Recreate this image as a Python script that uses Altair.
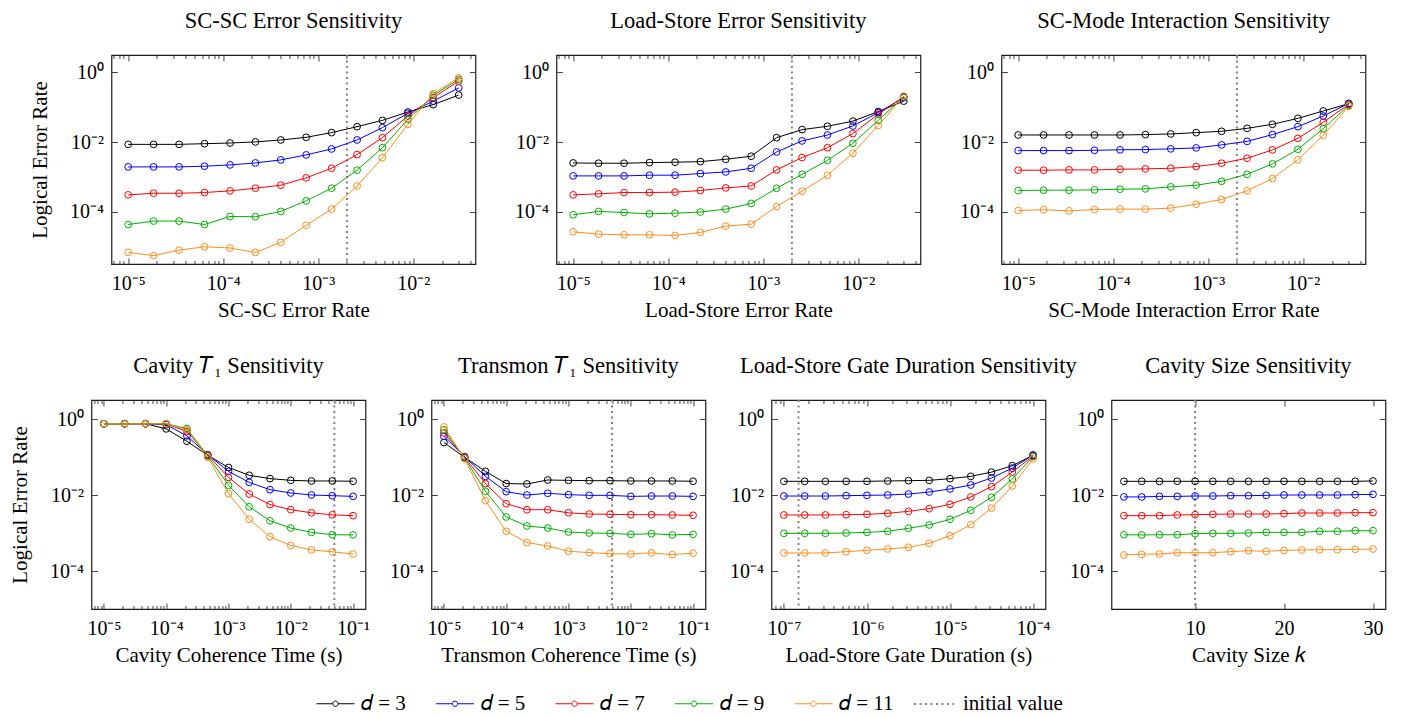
import altair as alt
import pandas as pd

FONT = "Liberation Serif"
SERIES = ["𝑑 = 3", "𝑑 = 5", "𝑑 = 7", "𝑑 = 9", "𝑑 = 11"]
COLORS = ["#000000", "#0000ff", "#ff0000", "#00b000", "#ff8c1a"]
INIT_LABEL = ["initial value"]

# ---------------- x values ----------------
X_RATE = [1.0e-5, 1.85e-5, 3.43e-5, 6.35e-5, 1.18e-4, 2.18e-4, 4.03e-4, 7.46e-4,
          1.38e-3, 2.56e-3, 4.73e-3, 8.76e-3, 1.62e-2, 3.0e-2]
X_T1 = [1.0e-5, 2.15e-5, 4.64e-5, 1.0e-4, 2.15e-4, 4.64e-4, 1.0e-3, 2.15e-3,
        4.64e-3, 1.0e-2, 2.15e-2, 4.64e-2, 1.0e-1]
X_DUR = [1.0e-7, 1.78e-7, 3.16e-7, 5.62e-7, 1.0e-6, 1.78e-6, 3.16e-6, 5.62e-6,
         1.0e-5, 1.78e-5, 3.16e-5, 5.62e-5, 1.0e-4]
X_K = [2, 4, 6, 8, 10, 12, 14, 16, 18, 20, 22, 24, 26, 28, 30]

# ---------------- SC-SC error ----------------
SCSC_D3 = [8.6e-3, 8.6e-3, 8.6e-3, 9.0e-3, 9.4e-3, 1.01e-2, 1.15e-2, 1.37e-2, 1.87e-2, 2.77e-2, 4.2e-2, 7.3e-2, 0.119, 0.224]
SCSC_D5 = [1.94e-3, 1.94e-3, 1.94e-3, 2.03e-3, 2.21e-3, 2.52e-3, 3.08e-3, 4.28e-3, 6.35e-3, 1.15e-2, 2.6e-2, 6.7e-2, 0.15, 0.36]
SCSC_D7 = [3.05e-4, 3.4e-4, 3.4e-4, 3.56e-4, 3.98e-4, 4.74e-4, 5.78e-4, 9.4e-4, 1.77e-3, 4.37e-3, 1.34e-2, 5.6e-2, 0.19, 0.56]
SCSC_D9 = [4.3e-5, 5.4e-5, 5.4e-5, 4.3e-5, 7.3e-5, 7.2e-5, 1.02e-4, 2.06e-4, 4.74e-4, 1.56e-3, 6.9e-3, 4.5e-2, 0.22, 0.63]
SCSC_D11 = [6.8e-6, 5.5e-6, 7.9e-6, 9.9e-6, 9.1e-6, 6.8e-6, 1.32e-5, 4.1e-5, 1.19e-4, 5.5e-4, 3.6e-3, 3.2e-2, 0.245, 0.70]

# ---------------- Load-store error ----------------
LS_D3 = [2.52e-3, 2.47e-3, 2.47e-3, 2.58e-3, 2.64e-3, 2.75e-3, 3.21e-3, 3.92e-3, 1.34e-2, 2.28e-2, 2.84e-2, 4.0e-2, 7.5e-2, 0.15]
LS_D5 = [1.07e-3, 1.07e-3, 1.07e-3, 1.12e-3, 1.12e-3, 1.25e-3, 1.39e-3, 1.77e-3, 5.2e-3, 1.08e-2, 1.6e-2, 2.9e-2, 7.0e-2, 0.19]
LS_D7 = [3.05e-4, 3.27e-4, 3.56e-4, 3.56e-4, 3.65e-4, 4.07e-4, 4.85e-4, 5.5e-4, 1.59e-3, 3.6e-3, 6.9e-3, 1.75e-2, 6.3e-2, 0.20]
LS_D9 = [8.2e-5, 1.02e-4, 9.5e-5, 8.7e-5, 9.1e-5, 9.8e-5, 1.19e-4, 1.73e-4, 4.7e-4, 1.19e-3, 3.0e-3, 9.2e-3, 4.2e-2, 0.20]
LS_D11 = [2.66e-5, 2.28e-5, 2.18e-5, 2.18e-5, 2.09e-5, 2.55e-5, 3.87e-5, 4.4e-5, 1.42e-4, 3.9e-4, 1.12e-3, 4.8e-3, 3.0e-2, 0.21]

# ---------------- SC-mode interaction ----------------
SM_D3 = [1.6e-2, 1.6e-2, 1.6e-2, 1.6e-2, 1.6e-2, 1.64e-2, 1.71e-2, 1.87e-2, 2.04e-2, 2.48e-2, 3.24e-2, 4.8e-2, 7.8e-2, 0.127]
SM_D5 = [5.7e-3, 5.7e-3, 5.7e-3, 5.8e-3, 6.0e-3, 6.1e-3, 6.4e-3, 6.8e-3, 8.3e-3, 1.05e-2, 1.64e-2, 2.77e-2, 5.6e-2, 0.129]
SM_D7 = [1.56e-3, 1.56e-3, 1.59e-3, 1.59e-3, 1.66e-3, 1.70e-3, 1.77e-3, 1.98e-3, 2.47e-3, 3.44e-3, 5.96e-3, 1.28e-2, 3.7e-2, 0.121]
SM_D9 = [4.07e-4, 4.16e-4, 4.16e-4, 4.25e-4, 4.44e-4, 4.54e-4, 5.18e-4, 5.78e-4, 7.5e-4, 1.19e-3, 2.36e-3, 6.2e-3, 2.43e-2, 0.113]
SM_D11 = [1.09e-4, 1.14e-4, 1.06e-4, 1.16e-4, 1.19e-4, 1.19e-4, 1.27e-4, 1.65e-4, 2.25e-4, 4.0e-4, 9.0e-4, 3.1e-3, 1.57e-2, 0.106]

# ---------------- Cavity T1 ----------------
CT_D3 = [0.75, 0.75, 0.75, 0.55, 0.26, 0.111, 5.3e-2, 3.3e-2, 2.7e-2, 2.43e-2, 2.34e-2, 2.34e-2, 2.3e-2]
CT_D5 = [0.75, 0.75, 0.75, 0.71, 0.36, 0.115, 4.2e-2, 2.15e-2, 1.38e-2, 1.13e-2, 1.0e-2, 9.6e-3, 9.2e-3]
CT_D7 = [0.75, 0.75, 0.75, 0.74, 0.47, 0.113, 2.9e-2, 1.06e-2, 5.6e-3, 4.1e-3, 3.4e-3, 3.0e-3, 2.86e-3]
CT_D9 = [0.75, 0.75, 0.75, 0.75, 0.56, 0.106, 1.8e-2, 4.9e-3, 2.1e-3, 1.35e-3, 1.04e-3, 9.0e-4, 8.9e-4]
CT_D11 = [0.75, 0.75, 0.75, 0.75, 0.52, 9.8e-2, 1.08e-2, 2.3e-3, 8.0e-4, 4.7e-4, 3.6e-4, 3.2e-4, 2.8e-4]

# ---------------- Transmon T1 ----------------
TT_D3 = [0.24, 9.8e-2, 4.2e-2, 2.0e-2, 1.95e-2, 2.48e-2, 2.43e-2, 2.38e-2, 2.38e-2, 2.34e-2, 2.34e-2, 2.34e-2, 2.3e-2]
TT_D5 = [0.35, 0.102, 3.1e-2, 1.22e-2, 1.0e-2, 1.11e-2, 1.02e-2, 9.8e-3, 9.8e-3, 9.2e-3, 9.4e-3, 9.4e-3, 9.2e-3]
TT_D7 = [0.43, 9.8e-2, 2.0e-2, 5.9e-3, 4.1e-3, 4.1e-3, 3.4e-3, 3.16e-3, 3.1e-3, 3.03e-3, 3.03e-3, 2.98e-3, 2.92e-3]
TT_D9 = [0.52, 9.4e-2, 1.25e-2, 2.64e-3, 1.53e-3, 1.35e-3, 1.06e-3, 1.0e-3, 9.8e-4, 9.2e-4, 9.6e-4, 8.9e-4, 9.2e-4]
TT_D11 = [0.62, 9.0e-2, 7.1e-3, 1.11e-3, 5.6e-4, 4.55e-4, 3.3e-4, 3.05e-4, 2.85e-4, 2.8e-4, 3.0e-4, 2.7e-4, 2.95e-4]

# ---------------- Load-store gate duration ----------------
GD_D3 = [2.29e-2, 2.29e-2, 2.29e-2, 2.29e-2, 2.29e-2, 2.34e-2, 2.38e-2, 2.43e-2, 2.69e-2, 3.1e-2, 4.0e-2, 5.9e-2, 0.111]
GD_D5 = [9.4e-3, 9.4e-3, 9.4e-3, 9.6e-3, 9.8e-3, 1.0e-2, 1.06e-2, 1.2e-2, 1.44e-2, 1.83e-2, 2.8e-2, 5.1e-2, 0.113]
GD_D7 = [2.98e-3, 2.98e-3, 2.98e-3, 3.03e-3, 3.1e-3, 3.3e-3, 3.72e-3, 4.37e-3, 5.7e-3, 8.9e-3, 1.66e-2, 4.0e-2, 0.106]
GD_D9 = [9.8e-4, 9.8e-4, 9.8e-4, 1.0e-3, 1.04e-3, 1.11e-3, 1.33e-3, 1.63e-3, 2.29e-3, 3.95e-3, 8.7e-3, 2.64e-2, 0.102]
GD_D11 = [2.98e-4, 2.98e-4, 2.98e-4, 3.23e-4, 3.5e-4, 3.8e-4, 4.2e-4, 5.35e-4, 8.5e-4, 1.66e-3, 4.5e-3, 1.73e-2, 8.9e-2]

# ---------------- Cavity size ----------------
CS_D3 = [2.29e-2, 2.29e-2, 2.29e-2, 2.29e-2, 2.29e-2, 2.29e-2, 2.29e-2, 2.29e-2, 2.29e-2, 2.29e-2, 2.29e-2, 2.29e-2, 2.29e-2, 2.29e-2, 2.34e-2]
CS_D5 = [8.9e-3, 8.9e-3, 9.2e-3, 9.2e-3, 9.4e-3, 9.4e-3, 9.6e-3, 9.6e-3, 9.8e-3, 1.0e-2, 1.0e-2, 1.0e-2, 1.0e-2, 1.02e-2, 1.04e-2]
CS_D7 = [2.86e-3, 2.86e-3, 2.86e-3, 2.98e-3, 3.03e-3, 3.1e-3, 3.16e-3, 3.16e-3, 3.16e-3, 3.23e-3, 3.36e-3, 3.36e-3, 3.36e-3, 3.43e-3, 3.43e-3]
CS_D9 = [9.0e-4, 8.9e-4, 9.0e-4, 9.0e-4, 9.6e-4, 9.8e-4, 9.8e-4, 1.0e-3, 1.04e-3, 1.04e-3, 1.04e-3, 1.11e-3, 1.11e-3, 1.15e-3, 1.15e-3]
CS_D11 = [2.64e-4, 2.75e-4, 2.8e-4, 3.03e-4, 3.03e-4, 3.03e-4, 3.23e-4, 3.43e-4, 3.3e-4, 3.5e-4, 3.57e-4, 3.64e-4, 3.64e-4, 3.72e-4, 3.79e-4]

# initial (dotted) values
INIT = {"scsc": 2.0e-3, "ls": 2.0e-3, "sm": 2.0e-3, "ct": 5.0e-2, "tt": 5.0e-3, "gd": 1.5e-7, "cs": 10}

SUP = "['⁰','¹','²','³','⁴','⁵','⁶','⁷','⁸','⁹']"
EXP = "round(log(datum.value)/LN10)"
POW_LABEL = f"'10' + ({EXP} < 0 ? '⁻' : '') + {SUP}[abs({EXP})]"

Y_MAJOR = [1.0, 1e-2, 1e-4]
MAJ = 6
MIN = 3.5


def minor_ticks(lo_exp, hi_exp):
    vals = []
    for e in range(lo_exp, hi_exp + 1):
        for m in range(2, 10):
            vals.append(m * 10.0 ** e)
    return vals


def panel(title, xtitle, xs, ys, init, xdom, ydom, xmajor, xminor, width,
          xlog=True, ytitle=None, legend=False):
    rows = []
    for s, vals in zip(SERIES, ys):
        for xv, yv in zip(xs, vals):
            rows.append({"x": xv, "y": yv, "series": s})
    df = pd.DataFrame(rows)
    idf = pd.DataFrame({"x": [init], "kind": INIT_LABEL})

    if xlog:
        xscale = alt.Scale(type="log", domain=xdom, nice=False)
        xlab = dict(labelExpr=POW_LABEL)
    else:
        xscale = alt.Scale(type="linear", domain=xdom, nice=False, zero=False)
        xlab = {}
    yscale = alt.Scale(type="log", domain=ydom, nice=False)

    ax_bot = alt.Axis(orient="bottom", values=xmajor, offset=-MAJ, tickSize=MAJ, domain=False,
                      grid=False, title=xtitle, labelPadding=9, titlePadding=6, **xlab)
    ax_top = alt.Axis(orient="top", values=xmajor, offset=-MAJ, tickSize=MAJ, domain=False,
                      grid=False, labels=False, title=None)
    if ytitle:
        ax_left = alt.Axis(orient="left", values=Y_MAJOR, offset=-MAJ, tickSize=MAJ, domain=False,
                           grid=False, labelExpr=POW_LABEL, labelPadding=8, title=ytitle, titlePadding=19)
    else:
        ax_left = alt.Axis(orient="left", values=Y_MAJOR, offset=-MAJ, tickSize=MAJ, domain=False,
                           grid=False, labelExpr=POW_LABEL, labelPadding=8, title=None)
    ax_right = alt.Axis(orient="right", values=Y_MAJOR, offset=-MAJ, tickSize=MAJ, domain=False,
                        grid=False, labels=False, title=None)

    if legend:
        col_leg = alt.Legend(orient="none", legendX=225, legendY=629, direction="horizontal",
                             title=None,
                             symbolType="M -1 0 L -0.14 0 M 0.14 0 L 1 0 M 0.14 0 A 0.14 0.14 0 1 1 -0.14 0 A 0.14 0.14 0 1 1 0.14 0",
                             symbolSize=1444, symbolStrokeWidth=1, symbolFillColor="transparent",
                             labelFont=FONT, labelFontSize=21, labelColor="#000", labelOffset=6,
                             columnPadding=27.5, labelLimit=300)
        dash_leg = alt.Legend(orient="none", legendX=822, legendY=628, direction="horizontal",
                              title=None, symbolType="stroke", symbolSize=1600,
                              symbolStrokeColor="gray", symbolStrokeWidth=2,
                              labelFont=FONT, labelFontSize=21, labelColor="#000", labelOffset=8,
                              labelLimit=300)
    else:
        col_leg = None
        dash_leg = None

    color = alt.Color("series:N", scale=alt.Scale(domain=SERIES, range=COLORS), legend=col_leg)
    color_nl = alt.Color("series:N", scale=alt.Scale(domain=SERIES, range=COLORS), legend=None)

    rule_axis = alt.Axis(orient="bottom", values=xminor, offset=-MIN, tickSize=MIN, domain=False,
                         grid=False, labels=False, title=None) if xminor else None
    top_minor = alt.Axis(orient="top", values=xminor, offset=-MIN, tickSize=MIN, domain=False,
                         grid=False, labels=False, title=None) if xminor else None

    rule = alt.Chart(idf).mark_rule(color="gray", strokeWidth=2).encode(
        x=alt.X("x:Q", scale=xscale, axis=rule_axis),
        strokeDash=alt.StrokeDash("kind:N", scale=alt.Scale(domain=INIT_LABEL, range=[[2, 3.5]]),
                                  legend=dash_leg),
    )
    # transparent copy of the points, only carries the top minor-tick axis
    extra = alt.Chart(df).mark_point(opacity=0).encode(
        x=alt.X("x:Q", scale=xscale, axis=top_minor),
        y=alt.Y("y:Q", scale=yscale, axis=None),
    )
    lines = alt.Chart(df).mark_line(strokeWidth=1).encode(
        x=alt.X("x:Q", scale=xscale, axis=ax_bot),
        y=alt.Y("y:Q", scale=yscale, axis=ax_left),
        color=color,
    )
    points = alt.Chart(df).mark_point(filled=False, size=46, strokeWidth=1, opacity=1).encode(
        x=alt.X("x:Q", scale=xscale, axis=ax_top),
        y=alt.Y("y:Q", scale=yscale, axis=ax_right),
        color=color_nl,
    )
    return alt.layer(rule, extra, lines, points).resolve_axis(
        x="independent", y="independent"
    ).properties(
        width=width, height=209,
        title=alt.Title(title, font=FONT, fontSize=22.5, fontWeight="normal", color="#000",
                        offset=4, baseline="alphabetic", anchor="middle"),
    )


R1_Y = [10 ** -5.5, 10 ** 0.5]
R2_Y = [1e-5, 10 ** 0.5]
RATE_DOM = [6.67e-6, 4.5e-2]
T1_DOM = [6.31e-6, 0.158]
DUR_DOM = [7.08e-8, 1.41e-4]
K_DOM = [0.6, 31.4]

RATE_MAJ = [1e-5, 1e-4, 1e-3, 1e-2]
T1_MAJ = [1e-5, 1e-4, 1e-3, 1e-2, 1e-1]
DUR_MAJ = [1e-7, 1e-6, 1e-5, 1e-4]

RATE_MIN = [v for v in minor_ticks(-6, -2) if RATE_DOM[0] <= v <= RATE_DOM[1]]
T1_MIN = [v for v in minor_ticks(-6, -1) if T1_DOM[0] <= v <= T1_DOM[1]]
DUR_MIN = [v for v in minor_ticks(-8, -4) if DUR_DOM[0] <= v <= DUR_DOM[1]]

W1 = 364
W2 = 274

p1 = panel("SC-SC Error Sensitivity", "SC-SC Error Rate", X_RATE,
           [SCSC_D3, SCSC_D5, SCSC_D7, SCSC_D9, SCSC_D11], INIT["scsc"], RATE_DOM, R1_Y,
           RATE_MAJ, RATE_MIN, W1, ytitle="Logical Error Rate", legend=True)
p2 = panel("Load-Store Error Sensitivity", "Load-Store Error Rate", X_RATE,
           [LS_D3, LS_D5, LS_D7, LS_D9, LS_D11], INIT["ls"], RATE_DOM, R1_Y,
           RATE_MAJ, RATE_MIN, W1)
p3 = panel("SC-Mode Interaction Sensitivity", "SC-Mode Interaction Error Rate", X_RATE,
           [SM_D3, SM_D5, SM_D7, SM_D9, SM_D11], INIT["sm"], RATE_DOM, R1_Y,
           RATE_MAJ, RATE_MIN, W1)
p4 = panel("Cavity 𝑇₁ Sensitivity", "Cavity Coherence Time (s)", X_T1,
           [CT_D3, CT_D5, CT_D7, CT_D9, CT_D11], INIT["ct"], T1_DOM, R2_Y,
           T1_MAJ, T1_MIN, W2, ytitle="Logical Error Rate")
p5 = panel("Transmon 𝑇₁ Sensitivity", "Transmon Coherence Time (s)", X_T1,
           [TT_D3, TT_D5, TT_D7, TT_D9, TT_D11], INIT["tt"], T1_DOM, R2_Y,
           T1_MAJ, T1_MIN, W2)
p6 = panel("Load-Store Gate Duration Sensitivity", "Load-Store Gate Duration (s)", X_DUR,
           [GD_D3, GD_D5, GD_D7, GD_D9, GD_D11], INIT["gd"], DUR_DOM, R2_Y,
           DUR_MAJ, DUR_MIN, W2)
p7 = panel("Cavity Size Sensitivity", "Cavity Size 𝑘", X_K,
           [CS_D3, CS_D5, CS_D7, CS_D9, CS_D11], INIT["cs"], K_DOM, R2_Y,
           [10, 20, 30], None, W2, xlog=False)

row1 = alt.hconcat(p1, p2, p3, spacing=81, bounds="flush").resolve_scale(color="shared", strokeDash="shared")
row2 = alt.hconcat(p4, p5, p6, p7, spacing=66, bounds="flush").resolve_scale(color="shared", strokeDash="shared")

chart = alt.vconcat(row1, row2, spacing=32, center=True).resolve_scale(
    color="shared", strokeDash="shared"
).properties(padding=0).configure(
    font=FONT,
).configure_view(
    stroke="#1a1a1a", strokeWidth=1.2,
).configure_axis(
    labelFont=FONT, labelFontSize=20, labelColor="#000",
    titleFont=FONT, titleFontSize=21, titleFontWeight="normal", titleColor="#000",
    tickColor="#444", tickWidth=1,
)

chart.save("out.html", embed_options={"renderer": "svg", "actions": False})
